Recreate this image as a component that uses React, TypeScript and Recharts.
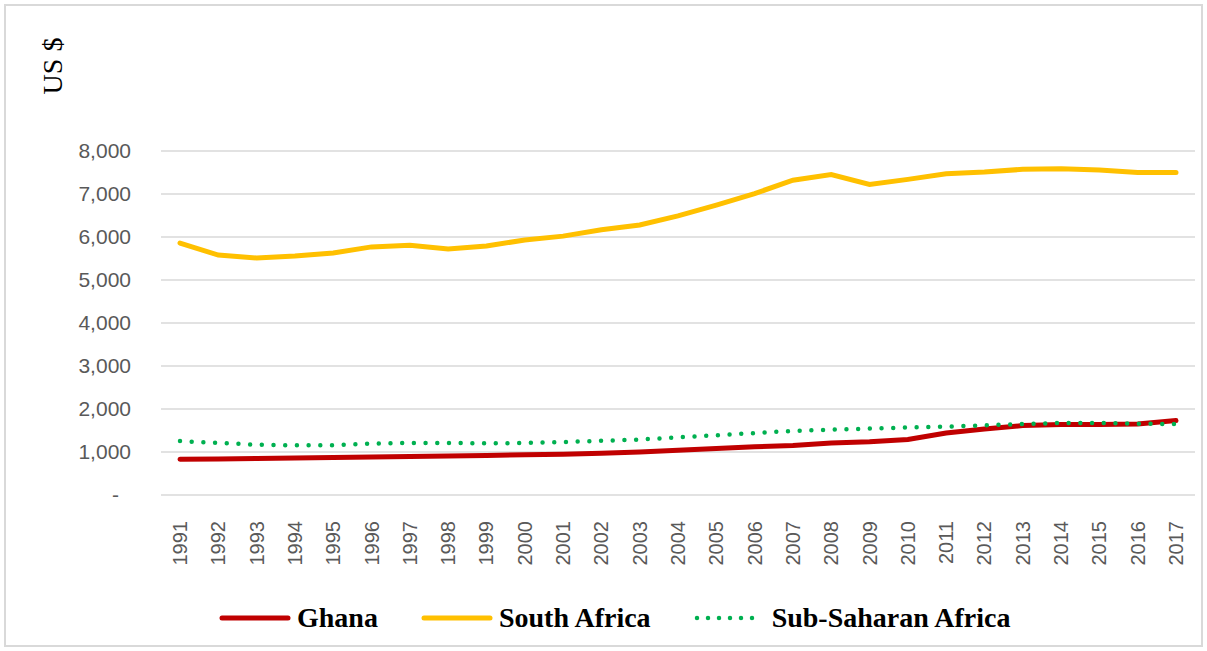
import React from "react";
import {
  LineChart,
  Line,
  XAxis,
  YAxis,
  CartesianGrid,
  Legend,
  Label,
} from "recharts";

const years = [
  "1991", "1992", "1993", "1994", "1995", "1996", "1997", "1998", "1999",
  "2000", "2001", "2002", "2003", "2004", "2005", "2006", "2007", "2008",
  "2009", "2010", "2011", "2012", "2013", "2014", "2015", "2016", "2017",
];

const ghana = [
  830, 840, 850, 860, 870, 885, 895, 905, 920, 935, 950, 970, 1000, 1040,
  1080, 1120, 1150, 1210, 1240, 1290, 1440, 1535, 1615, 1640, 1640, 1650, 1730,
];

const southAfrica = [
  5860, 5580, 5510, 5560, 5630, 5770, 5810, 5720, 5790, 5930, 6020, 6170,
  6280, 6490, 6740, 7010, 7320, 7450, 7220, 7340, 7470, 7510, 7575, 7590,
  7560, 7500, 7500,
];

const subSaharan = [
  1255, 1210, 1170, 1155, 1160, 1195, 1210, 1210, 1200, 1210, 1230, 1260,
  1290, 1340, 1390, 1440, 1490, 1520, 1545, 1570, 1590, 1620, 1650, 1675,
  1675, 1660, 1650,
];

const yTicks = [0, 1000, 2000, 3000, 4000, 5000, 6000, 7000, 8000];

const data = years.map((year, i) => ({
  year,
  ghana: ghana[i],
  southAfrica: southAfrica[i],
  subSaharan: subSaharan[i],
}));

const series = [
  { key: "ghana", name: "Ghana", color: "#C00000", dash: undefined, width: 5 },
  { key: "southAfrica", name: "South Africa", color: "#FFC000", dash: undefined, width: 5 },
  { key: "subSaharan", name: "Sub-Saharan Africa", color: "#00B050", dash: "0 11.7", width: 4.5 },
];

const fmt = (v: number) =>
  v === 0 ? "-" : String(v).replace(/\B(?=(\d{3})+(?!\d))/g, ",");

const XTick = (props: any) => {
  const { x, y, payload } = props;
  return (
    <text
      transform={`translate(${x + 7},${y + 26}) rotate(-90)`}
      textAnchor="end"
      fill="#595959"
      fontSize={20}
      fontFamily="Liberation Sans, Arial, sans-serif"
    >
      {payload.value}
    </text>
  );
};

const YTick = (props: any) => {
  const { y, payload } = props;
  const v = payload.value as number;
  return (
    <text
      x={v === 0 ? 119 : 131}
      y={y}
      dy={7}
      textAnchor="end"
      fill="#595959"
      fontSize={21}
      fontFamily="Liberation Sans, Arial, sans-serif"
    >
      {fmt(v)}
    </text>
  );
};

const LegendContent = () => (
  <div style={{ display: "flex", alignItems: "center", height: 66 }}>
    {series.map((s, i) => (
      <div
        key={s.key}
        style={{ display: "flex", alignItems: "center", marginLeft: i === 0 ? 0 : 43 }}
      >
        <svg width={72} height={12}>
          <line
            x1={3}
            x2={69}
            y1={6}
            y2={6}
            stroke={s.color}
            strokeWidth={s.width}
            strokeLinecap="round"
            strokeDasharray={s.dash ? "0 11" : undefined}
          />
        </svg>
        <span
          style={{
            marginLeft: 6,
            fontFamily: "Liberation Serif, Times New Roman, serif",
            fontWeight: "bold",
            fontSize: 28,
            letterSpacing: 0,
            color: "#000",
          }}
        >
          {s.name}
        </span>
      </div>
    ))}
  </div>
);

export default function App() {
  return (
    <div style={{ position: "absolute", left: 0, top: 0, width: 1207, height: 651 }}>
      <div
        style={{
          position: "absolute",
          left: 4,
          top: 4,
          width: 1199,
          height: 643,
          border: "2px solid #d9d9d9",
          boxSizing: "border-box",
        }}
      />
      <div style={{ position: "absolute", left: 0, top: 0 }}>
        <LineChart
          width={1207}
          height={651}
          data={data}
          margin={{ top: 151, right: 12, left: 0, bottom: 0 }}
        >
          <CartesianGrid vertical={false} stroke="#d9d9d9" strokeWidth={1.5} />
          <XAxis
            dataKey="year"
            height={90}
            axisLine={false}
            tickLine={false}
            tickSize={0}
            tickMargin={0}
            interval={0}
            padding={{ left: 19, right: 19 }}
            tick={<XTick />}
          />
          <YAxis
            width={161}
            domain={[0, 8000]}
            ticks={yTicks}
            axisLine={false}
            tickLine={false}
            tickSize={0}
            tick={<YTick />}
          >
            <Label
              content={() => (
                <text
                  transform="translate(62,66) rotate(-90)"
                  textAnchor="middle"
                  fontFamily="Liberation Serif, Times New Roman, serif"
                  fontSize={28}
                  fill="#000"
                >
                  US $
                </text>
              )}
            />
          </YAxis>
          <Legend
            verticalAlign="bottom"
            content={<LegendContent />}
            wrapperStyle={{ left: 219, bottom: 0, width: "auto" }}
          />
          {series.map((s) => (
            <Line
              key={s.key}
              type="linear"
              dataKey={s.key}
              name={s.name}
              stroke={s.color}
              strokeWidth={s.width}
              strokeDasharray={s.dash}
              strokeLinecap="round"
              dot={false}
              activeDot={false}
              isAnimationActive={false}
            />
          ))}
        </LineChart>
      </div>
    </div>
  );
}
